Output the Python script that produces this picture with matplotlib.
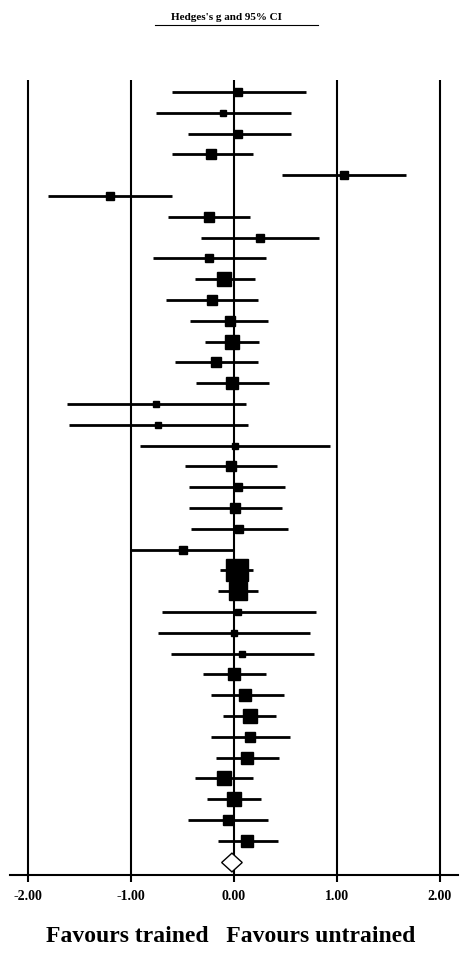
import matplotlib.pyplot as plt
import numpy as np

# Hedges's g with 95% CI per study
g = [0.04, -0.11, 0.04, -0.22, 1.07, -1.20, -0.24, 0.25, -0.24, -0.10,
     -0.21, -0.04, -0.02, -0.17, -0.02, -0.76, -0.74, 0.01, -0.03, 0.04,
     0.01, 0.05, -0.50, 0.03, 0.04, 0.04, 0.00, 0.08, 0.00, 0.11,
     0.16, 0.16, 0.13, -0.10, 0.00, -0.06, 0.13]
lo = [-0.60, -0.76, -0.45, -0.60, 0.47, -1.81, -0.64, -0.32, -0.79, -0.38,
      -0.66, -0.43, -0.28, -0.57, -0.37, -1.62, -1.60, -0.91, -0.48, -0.44,
      -0.44, -0.42, -1.00, -0.14, -0.16, -0.70, -0.74, -0.61, -0.30, -0.22,
      -0.11, -0.22, -0.17, -0.38, -0.26, -0.45, -0.16]
hi = [0.70, 0.55, 0.55, 0.18, 1.67, -0.60, 0.16, 0.83, 0.31, 0.20,
      0.23, 0.33, 0.24, 0.23, 0.34, 0.12, 0.14, 0.93, 0.42, 0.50,
      0.47, 0.52, 0.00, 0.18, 0.23, 0.80, 0.74, 0.78, 0.31, 0.49,
      0.41, 0.54, 0.44, 0.18, 0.26, 0.33, 0.43]
summary_g = -0.02
summary_lo = -0.12
summary_hi = 0.08
ticks = [-2, -1, 0, 1, 2]
tick_labels = ["-2.00", "-1.00", "0.00", "1.00", "2.00"]

fig = plt.figure(figsize=(4.62, 9.56), dpi=100)
ax = fig.add_axes([10 / 462, 81 / 956, 448 / 462, 795 / 956])
serif = 'Liberation Serif'

n = len(g)
rows = np.arange(n)
ax.vlines(ticks, -0.6, n + 0.6, color='black', lw=1.5, zorder=1)
ax.hlines(rows, lo, hi, color='black', lw=2, zorder=2)
widths = np.array(hi) - np.array(lo)
sizes = 1.3 / widths
sizes = np.clip(sizes, 0, None)
msize = 4 + (sizes - sizes.min()) / (sizes.max() - sizes.min()) * 12
for i in range(n):
    ax.plot(g[i], i, 's', color='black', ms=msize[i], zorder=3)

d = n + 0.05
ax.fill([summary_lo, summary_g, summary_hi, summary_g],
        [d, d - 0.45, d, d + 0.45], facecolor='white', edgecolor='black', lw=1, zorder=4)

ax.set_xlim(-2.175, 2.175)
ax.set_ylim(37.65, -0.58)
for s in ['top', 'left', 'right']:
    ax.spines[s].set_visible(False)
ax.spines['bottom'].set_linewidth(1.5)
ax.set_yticks([])
ax.set_xticks(ticks)
ax.set_xticklabels(tick_labels, fontfamily=serif, fontweight='bold', fontsize=10)
ax.tick_params(axis='x', length=5, width=1.5, pad=6)

fig.text(0.5, 1 - 18 / 956, "Hedges's g and 95% CI   ", ha='center', va='center',
         fontfamily=serif, fontweight='bold', fontsize=8)
fig.plot = None
fig.add_artist(plt.Line2D([155 / 462, 318 / 462], [1 - 25 / 956, 1 - 25 / 956],
                          color='black', lw=0.8))
fig.text(0.5, 1 - 937 / 956, "Favours trained   Favours untrained", ha='center',
         va='center', fontfamily=serif, fontweight='bold', fontsize=17)

fig.savefig('out.png', dpi=100)
